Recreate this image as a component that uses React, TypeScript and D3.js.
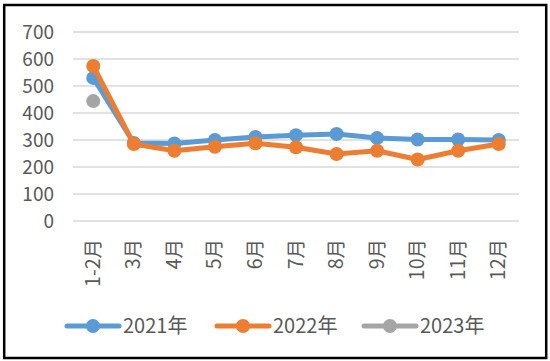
import React, { useEffect, useRef } from "react";
import * as d3 from "d3";

const months = ["1-2月", "3月", "4月", "5月", "6月", "7月", "8月", "9月", "10月", "11月", "12月"];
const values2021 = [530, 289, 287, 300, 311, 318, 322, 307, 302, 302, 300];
const values2022 = [574, 285, 260, 275, 288, 273, 248, 260, 228, 260, 285];
const values2023 = [444];
const yTicks = [0, 100, 200, 300, 400, 500, 600, 700];

const seriesNames = ["2021年", "2022年", "2023年"];
const seriesColors = ["#5B9BD5", "#ED7D31", "#A5A5A5"];

const App: React.FC = () => {
  const svgRef = useRef<SVGSVGElement>(null);

  useEffect(() => {
    if (!svgRef.current) return;
    const width = 550;
    const height = 361;
    const svg = d3.select(svgRef.current);
    svg.selectAll("*").remove();
    svg.attr("width", width).attr("height", height);

    const font = "'Noto Sans CJK SC', 'Liberation Sans', sans-serif";
    const textColor = "#595959";

    svg
      .append("rect")
      .attr("x", 0)
      .attr("y", 0)
      .attr("width", width)
      .attr("height", height)
      .attr("fill", "#fff");

    svg
      .append("rect")
      .attr("x", 4.2)
      .attr("y", 5)
      .attr("width", 542)
      .attr("height", 353)
      .attr("fill", "none")
      .attr("stroke", "#000")
      .attr("stroke-width", 2.5);

    const x = d3.scalePoint<string>().domain(months).range([73, 519]).padding(0.5);
    const y = d3.scaleLinear().domain([0, 700]).range([221, 32]);

    // grid lines
    svg
      .append("g")
      .selectAll("line")
      .data(yTicks)
      .join("line")
      .attr("x1", 73)
      .attr("x2", 519)
      .attr("y1", (d) => y(d))
      .attr("y2", (d) => y(d))
      .attr("stroke", "#D9D9D9")
      .attr("stroke-width", 1.3);

    // y labels
    svg
      .append("g")
      .selectAll("text")
      .data(yTicks)
      .join("text")
      .attr("x", 54)
      .attr("y", (d) => y(d))
      .attr("dy", "0.36em")
      .attr("text-anchor", "end")
      .attr("font-family", font)
      .attr("font-size", 19)
      .attr("fill", textColor)
      .text((d) => d);

    // x labels
    svg
      .append("g")
      .selectAll("text")
      .data(months)
      .join("text")
      .attr("transform", (d) => `translate(${(x(d) as number) + 6.5},239) rotate(-90)`)
      .attr("text-anchor", "end")
      .attr("font-family", font)
      .attr("font-size", 19.5)
      .attr("fill", textColor)
      .text((d) => d);

    const line = d3
      .line<number>()
      .x((_, i) => x(months[i]) as number)
      .y((d) => y(d));

    const allSeries = [values2021, values2022, values2023];
    allSeries.forEach((vals, si) => {
      const g = svg.append("g");
      if (vals.length > 1) {
        g.append("path")
          .datum(vals)
          .attr("d", line)
          .attr("fill", "none")
          .attr("stroke", seriesColors[si])
          .attr("stroke-width", 5)
          .attr("stroke-linejoin", "round");
      }
      g.selectAll("circle")
        .data(vals)
        .join("circle")
        .attr("cx", (_, i) => x(months[i]) as number)
        .attr("cy", (d) => y(d))
        .attr("r", 7)
        .attr("fill", seriesColors[si]);
    });

    // legend
    const legendX = [67, 217, 364];
    const legendY = 326;
    seriesNames.forEach((name, i) => {
      const lg = svg.append("g").attr("transform", `translate(${legendX[i]},${legendY})`);
      lg.append("line")
        .attr("x1", 0)
        .attr("x2", 52)
        .attr("y1", 0)
        .attr("y2", 0)
        .attr("stroke", seriesColors[i])
        .attr("stroke-width", 5)
        .attr("stroke-linecap", "round");
      lg.append("circle").attr("cx", 26).attr("cy", 0).attr("r", 7).attr("fill", seriesColors[i]);
      lg.append("text")
        .attr("x", 56)
        .attr("y", 0)
        .attr("dy", "0.36em")
        .attr("font-family", font)
        .attr("font-size", 20)
        .attr("fill", textColor)
        .text(name);
    });
  }, []);

  return <svg ref={svgRef} style={{ position: "absolute", left: 0, top: 0 }}></svg>;
};

export default App;
